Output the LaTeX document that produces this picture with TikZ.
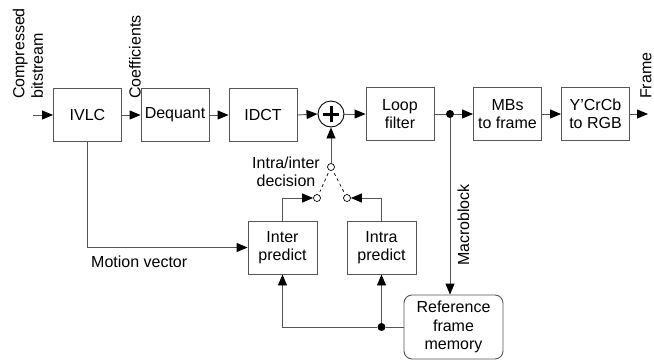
\documentclass[tikz,border=0pt]{standalone}
\usepackage{fontspec}
\setmainfont{Liberation Sans}
\usetikzlibrary{arrows.meta}
\definecolor{lc}{RGB}{85,85,85}
\tikzset{
  txt/.style={font=\fontsize{16}{18.5}\selectfont, inner sep=0pt},
  blk/.style={txt, draw=lc, line width=0.9pt, minimum width=68pt, minimum height=53pt, align=center},
  arr/.style={draw=lc, line width=0.9pt, -{Triangle[length=11pt,width=9pt,color=black]}},
  ln/.style={draw=lc, line width=0.9pt},
  sw/.style={circle, draw=black, fill=white, line width=0.7pt, minimum size=7pt, inner sep=0pt},
  jdot/.style={circle, fill=black, minimum size=8pt, inner sep=0pt},
  rot/.style={txt, rotate=90, anchor=west, align=left}
}
\begin{document}
\begin{tikzpicture}[x=1pt,y=-1pt]
\useasboundingbox (0,0) rectangle (654,360);
% main row
\node[blk] (ivlc) at (87.5,115) {IVLC};
\node[blk] (deq) at (175,115) {Dequant};
\node[blk] (idct) at (263,115) {IDCT};
\node[circle, draw=black, line width=0.9pt, minimum size=26pt, inner sep=0pt] (plus) at (331,114) {};
\draw[line width=3pt] ([xshift=-8pt]plus.center) -- ([xshift=8pt]plus.center);
\draw[line width=3pt] ([yshift=-8pt]plus.center) -- ([yshift=8pt]plus.center);
\node[blk] (loop) at (400,114) {Loop\\filter};
\node[blk] (mbs) at (507.5,114) {MBs\\to frame};
\node[blk] (rgb) at (595.5,114) {Y'CrCb\\to RGB};
% lower part
\node[blk, minimum width=69pt] (inter) at (282.5,247.5) {Inter\\predict};
\node[blk, minimum width=69pt] (intra) at (381.5,247.5) {Intra\\predict};
\node[blk, minimum width=99pt, minimum height=64pt, rounded corners=8pt] (ref) at (453.5,327) {Reference\\frame\\memory};
% switch
\node[sw] (swt) at (331,167) {};
\node[sw] (swl) at (317,198) {};
\node[sw] (swr) at (347,198) {};
% coordinates / junctions
\coordinate (in) at (33,115);
\coordinate (out) at (648,114);
\node[jdot] (dot1) at (450,114) {};
\node[jdot] (dot2) at (381.5,327) {};
% labels
\node[rot] (lcomp) at (28,99) {Compressed\\bitstream};
\node[rot] (lcoef) at (135,99) {Coefficients};
\node[rot] (lframe) at (646,99) {Frame};
\node[txt, rotate=90] (lmb) at (463.5,225) {Macroblock};
\node[txt, anchor=west] (lmv) at (91,262) {Motion vector};
\node[txt, align=center] (ldec) at (286,172) {Intra/inter\\decision};
% connectors
\draw[arr] (in) -- (ivlc.west);
\draw[arr] (ivlc) -- (deq);
\draw[arr] (deq) -- (idct);
\draw[arr] (idct.east) -- (plus.west);
\draw[arr] (plus.east) -- (loop.west);
\draw[ln] (loop.east) -- (dot1);
\draw[arr] (dot1) -- (mbs.west);
\draw[arr] (mbs) -- (rgb);
\draw[arr] (rgb.east) -- (out);
\draw[arr] (dot1) -- (dot1 |- ref.north);
\draw[arr] (ivlc.south) |- (inter.west);
\draw[arr] (inter.north) |- (swl.west);
\draw[arr] (intra.north) |- (swr.east);
\draw[arr] (swt) -- (plus.south);
\draw[draw=black, line width=0.7pt, dash pattern=on 3pt off 3pt, shorten <=3pt, shorten >=3pt] (swt) -- (swl);
\draw[draw=black, line width=0.7pt, dash pattern=on 3pt off 3pt, shorten <=3pt, shorten >=3pt] (swt) -- (swr);
\draw[ln] (ref.west) -- (dot2);
\draw[arr] (dot2) -| (inter.south);
\draw[arr] (dot2) -- (intra.south);
\end{tikzpicture}
\end{document}
